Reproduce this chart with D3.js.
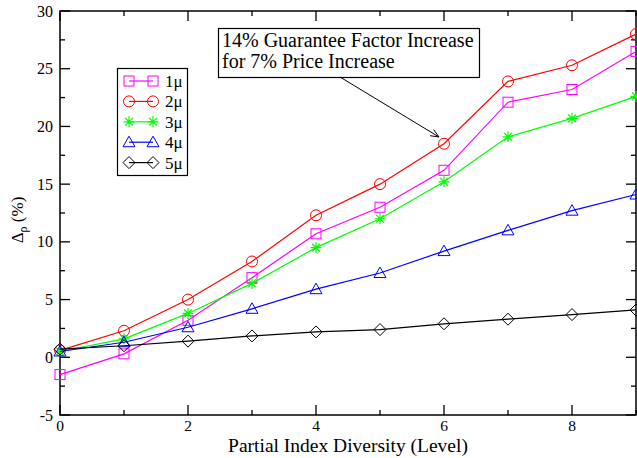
<!DOCTYPE html>
<html>
<head>
<meta charset="utf-8">
<script src="https://cdn.jsdelivr.net/npm/d3@7"></script>
<style>
  body { margin: 0; background: #fff; }
  svg { display: block; }
</style>
</head>
<body>
<div class="chart"></div>
<script>
const levels = [0, 1, 2, 3, 4, 5, 6, 7, 8, 9];
const seriesNames = ["1μ", "2μ", "3μ", "4μ", "5μ"];
const mu1 = [-1.5, 0.3, 3.2, 6.9, 10.7, 13.0, 16.2, 22.1, 23.2, 26.5];
const mu2 = [0.6, 2.3, 5.0, 8.3, 12.3, 15.0, 18.5, 23.9, 25.3, 28.0];
const mu3 = [0.5, 1.6, 3.8, 6.4, 9.5, 12.0, 15.2, 19.1, 20.7, 22.6];
const mu4 = [0.5, 1.3, 2.6, 4.2, 5.9, 7.3, 9.2, 11.0, 12.7, 14.1];
const mu5 = [0.7, 1.0, 1.4, 1.85, 2.2, 2.4, 2.9, 3.3, 3.7, 4.1];
const xTicks = [0, 2, 4, 6, 8];
const yTicks = [-5, 0, 5, 10, 15, 20, 25, 30];
const annotation = ["14% Guarantee Factor Increase", "for 7% Price Increase"];

const colors = ["#ff00ff", "#ff0000", "#00ff00", "#0000ff", "#000000"];
const shapes = ["square", "circle", "star", "triangle", "diamond"];
const allSeries = [mu1, mu2, mu3, mu4, mu5];

const width = 637;
const height = 458;
const m = { left: 60, right: 636, top: 11, bottom: 415 };

const svg = d3
  .select(".chart")
  .append("svg")
  .attr("width", width)
  .attr("height", height)
  .style("font-family", "Liberation Serif");

const x = d3.scaleLinear().domain([0, 9]).range([m.left, m.right]);
const y = d3.scaleLinear().domain([-5, 30]).range([m.bottom, m.top]);

// ticks on all four sides, pointing inward
const xMinor = d3.range(0, 10, 1);
const yMinor = d3.range(-5, 30.1, 2.5);
const tickLen = (v, step) => (v % step === 0 ? 10 : 5);

const ticks = svg.append("g").attr("stroke", "black").attr("stroke-width", 1.3);
xMinor.forEach((v) => {
  const l = tickLen(v, 2);
  ticks.append("line").attr("x1", x(v)).attr("x2", x(v)).attr("y1", m.bottom).attr("y2", m.bottom - l);
  ticks.append("line").attr("x1", x(v)).attr("x2", x(v)).attr("y1", m.top).attr("y2", m.top + l);
});
yMinor.forEach((v) => {
  const l = tickLen(v, 5);
  ticks.append("line").attr("x1", m.left).attr("x2", m.left + l).attr("y1", y(v)).attr("y2", y(v));
  ticks.append("line").attr("x1", m.right).attr("x2", m.right - l).attr("y1", y(v)).attr("y2", y(v));
});

svg
  .append("rect")
  .attr("x", m.left)
  .attr("y", m.top)
  .attr("width", m.right - m.left)
  .attr("height", m.bottom - m.top)
  .attr("fill", "none")
  .attr("stroke", "black")
  .attr("stroke-width", 1.5);

svg
  .selectAll("text.xtick")
  .data(xTicks)
  .enter()
  .append("text")
  .attr("class", "xtick")
  .attr("x", (d) => x(d))
  .attr("y", 431)
  .attr("text-anchor", "middle")
  .attr("font-size", 15.5)
  .text((d) => d);

svg
  .selectAll("text.ytick")
  .data(yTicks)
  .enter()
  .append("text")
  .attr("class", "ytick")
  .attr("x", m.left - 7)
  .attr("y", (d) => y(d))
  .attr("dy", 5.5)
  .attr("text-anchor", "end")
  .attr("font-size", 16)
  .text((d) => d);

svg
  .append("text")
  .attr("x", (m.left + m.right) / 2)
  .attr("y", 452)
  .attr("text-anchor", "middle")
  .attr("font-size", 19.5)
  .text("Partial Index Diversity (Level)");

const yLabel = svg
  .append("text")
  .attr("transform", "translate(23,220) rotate(-90)")
  .attr("text-anchor", "middle")
  .attr("font-size", 17);
yLabel.append("tspan").text("Δ");
yLabel.append("tspan").attr("font-size", 12).attr("dy", 4).text("ρ");
yLabel.append("tspan").attr("dy", -4).text(" (%)");

// marker drawing
function drawMarker(g, shape, color, cx, cy) {
  if (shape === "square") {
    g.append("rect").attr("x", cx - 5).attr("y", cy - 5).attr("width", 10).attr("height", 10)
      .attr("fill", "none").attr("stroke", color);
  } else if (shape === "circle") {
    g.append("circle").attr("cx", cx).attr("cy", cy).attr("r", 5.5)
      .attr("fill", "none").attr("stroke", color);
  } else if (shape === "triangle") {
    g.append("path")
      .attr("d", `M${cx},${cy - 6}L${cx + 6},${cy + 4.5}L${cx - 6},${cy + 4.5}Z`)
      .attr("fill", "none").attr("stroke", color);
  } else if (shape === "diamond") {
    g.append("path")
      .attr("d", `M${cx},${cy - 6}L${cx + 6},${cy}L${cx},${cy + 6}L${cx - 6},${cy}Z`)
      .attr("fill", "none").attr("stroke", color);
  } else if (shape === "star") {
    const r = 5.5;
    let d = "";
    for (let k = 0; k < 4; k++) {
      const a = (k * Math.PI) / 4;
      d += `M${cx - r * Math.cos(a)},${cy - r * Math.sin(a)}L${cx + r * Math.cos(a)},${cy + r * Math.sin(a)}`;
    }
    g.append("path").attr("d", d).attr("stroke", color).attr("stroke-width", 1.2);
  }
}

const line = d3
  .line()
  .x((d, i) => x(levels[i]))
  .y((d) => y(d));

allSeries.forEach((vals, s) => {
  const g = svg.append("g");
  g.append("path")
    .attr("d", line(vals))
    .attr("fill", "none")
    .attr("stroke", colors[s])
    .attr("stroke-width", 1.2);
  vals.forEach((v, i) => drawMarker(g, shapes[s], colors[s], x(levels[i]), y(v)));
});

// legend
const legend = svg.append("g");
legend
  .append("rect")
  .attr("x", 117.5)
  .attr("y", 68.5)
  .attr("width", 70)
  .attr("height", 107)
  .attr("fill", "white")
  .attr("stroke", "black")
  .attr("stroke-width", 1.2);

seriesNames.forEach((name, s) => {
  const ly = 81 + s * 20.4;
  legend.append("line")
    .attr("x1", 129).attr("x2", 153).attr("y1", ly).attr("y2", ly)
    .attr("stroke", colors[s]).attr("stroke-width", 1.2);
  drawMarker(legend, shapes[s], colors[s], 129, ly);
  drawMarker(legend, shapes[s], colors[s], 153, ly);
  legend.append("text")
    .attr("x", 165)
    .attr("y", ly + 6)
    .attr("font-size", 17)
    .text(name);
});

// annotation box and arrow
svg
  .append("rect")
  .attr("x", 218.5)
  .attr("y", 28.5)
  .attr("width", 261)
  .attr("height", 49)
  .attr("fill", "white")
  .attr("stroke", "black")
  .attr("stroke-width", 1.2);

svg
  .selectAll("text.note")
  .data(annotation)
  .enter()
  .append("text")
  .attr("class", "note")
  .attr("x", 222)
  .attr("y", (d, i) => 47 + i * 21)
  .attr("font-size", 20)
  .text((d) => d);

const ax1 = 340, ay1 = 77, ax2 = 439, ay2 = 137;
const ang = Math.atan2(ay2 - ay1, ax2 - ax1);
const head = 9;
svg
  .append("path")
  .attr("d", `M${ax1},${ay1}L${ax2},${ay2}` +
    `M${ax2 - head * Math.cos(ang - 0.4)},${ay2 - head * Math.sin(ang - 0.4)}L${ax2},${ay2}` +
    `L${ax2 - head * Math.cos(ang + 0.4)},${ay2 - head * Math.sin(ang + 0.4)}`)
  .attr("fill", "none")
  .attr("stroke", "black")
  .attr("stroke-width", 1);
</script>
</body>
</html>
